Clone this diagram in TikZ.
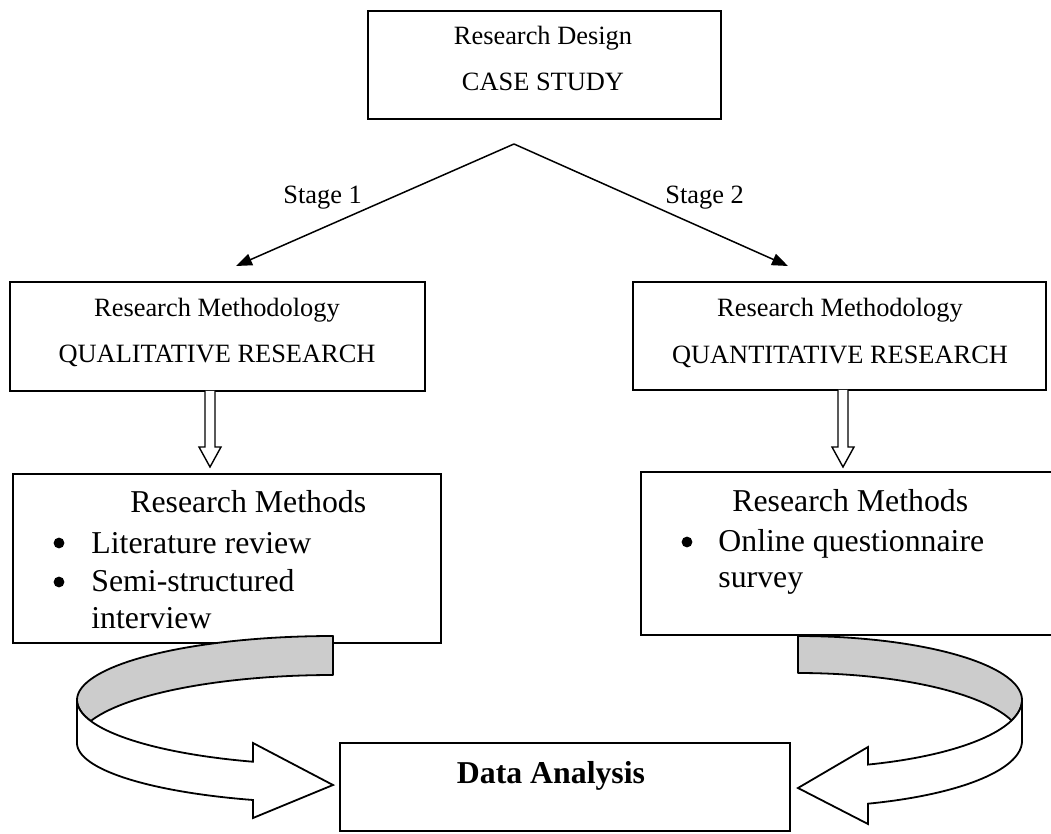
\documentclass[tikz,border=0pt]{standalone}
\usepackage{fontspec}
\setmainfont{Liberation Serif}
\usetikzlibrary{arrows.meta}
\begin{document}
\begin{tikzpicture}[x=0.5pt,y=-0.5pt,
  box/.style={draw, line width=0.9pt, inner sep=0pt},
  topbox/.style={draw, line width=1.2pt, inner sep=0pt},
  txs/.style={font=\fontsize{13.2pt}{15pt}\selectfont, inner sep=0pt},
  txl/.style={font=\fontsize{15.9pt}{19pt}\selectfont, inner sep=0pt},
  txb/.style={font=\fontsize{15.9pt}{19pt}\selectfont\bfseries, inner sep=0pt},
  dot/.style={circle, fill=black, inner sep=0pt, minimum size=5.4pt},
  conn/.style={line width=0.75pt, -{Triangle[length=8pt,width=6pt]}},
  hollow/.style={draw, fill=white, line width=0.7pt, line join=miter},
  ribbonback/.style={draw, fill=black!20, line width=0.9pt, line join=round},
  ribbonfront/.style={draw, fill=white, line width=0.9pt, line join=miter}
]
\useasboundingbox (0,0) rectangle (1051,834);

% boxes
\node[topbox, minimum width=176.5pt, minimum height=54pt] (top) at (544.5,65) {};
\node[box, minimum width=207.5pt, minimum height=54.5pt] (qual) at (217.5,336.5) {};
\node[box, minimum width=206.5pt, minimum height=54pt] (quant) at (839.5,336) {};
\node[box, minimum width=214pt, minimum height=84.5pt] (meth1) at (227,558.5) {};
\node[box, minimum width=214.5pt, minimum height=81.5pt] (meth2) at (855.5,553.5) {};
\node[box, minimum width=225pt, minimum height=44pt] (data) at (565,787) {};

% texts
\node[txs, anchor=base] (t1) at (543,45) {Research Design};
\node[txs, anchor=base] (t2) at (543,91) {CASE STUDY};
\node[txs, anchor=base] (q1) at (217,317) {Research Methodology};
\node[txs, anchor=base] (q2) at (217,363) {QUALITATIVE RESEARCH};
\node[txs, anchor=base] (n1) at (840,317) {Research Methodology};
\node[txs, anchor=base] (n2) at (840,364) {QUANTITATIVE RESEARCH};

\node[txl, anchor=base west] (m1h) at (130,513) {Research Methods};
\node[dot] (b11) at (59,543) {};
\node[txl, anchor=base west] (m1a) at (91,553) {Literature review};
\node[dot] (b12) at (59,582) {};
\node[txl, anchor=base west] (m1b) at (91,591) {Semi-structured};
\node[txl, anchor=base west] (m1c) at (91,628) {interview};

\node[txl, anchor=base west] (m2h) at (732,512) {Research Methods};
\node[dot] (b21) at (687,542) {};
\node[txl, anchor=base west] (m2a) at (718,552) {Online questionnaire};
\node[txl, anchor=base west] (m2b) at (718,588) {survey};

\node[txb, anchor=base] (dt) at (551,783) {Data Analysis};

% stage connectors
\coordinate (apex) at (514,144);
\coordinate (tipL) at (236,266);
\coordinate (tipR) at (788,266);
\draw[conn] (apex) -- (tipL);
\draw[conn] (apex) -- (tipR);
\node[txs, anchor=base west] (s1) at (283,204) {Stage 1};
\node[txs, anchor=base west] (s2) at (665,204) {Stage 2};

% hollow down arrows
\path[hollow] (205,391) -- (205,447) -- (199,447) -- (210,467) -- (221,447) -- (215,447) -- (215,391);
\path[hollow] (838,390) -- (838,447) -- (832,447) -- (843,467) -- (854,447) -- (848,447) -- (848,390);

% left ribbon arrow (back)
\path[ribbonback] (333,636)
  -- plot[domain=270:180, samples=40] ({333+256*cos(\x)},{700+64*sin(\x)})
  -- plot[domain=180:161.1, samples=10] ({333+256*cos(\x)},{700+65*sin(\x)})
  -- plot[domain=198.9:270, samples=40] ({333+256*cos(\x)},{743+68*sin(\x)})
  -- cycle;
% left ribbon arrow (front)
\path[ribbonfront] (77,700)
  -- plot[domain=180:108.2, samples=40] ({333+256*cos(\x)},{700+65*sin(\x)})
  -- (253,743) -- (333,785) -- (253,818)
  -- plot[domain=108.2:180, samples=40] ({333+256*cos(\x)},{743+60*sin(\x)})
  -- cycle;

% right ribbon arrow (back)
\path[ribbonback] (798,636)
  -- plot[domain=270:360, samples=40] ({798+224*cos(\x)},{700+64*sin(\x)})
  -- plot[domain=0:17.5, samples=10] ({798+224*cos(\x)},{700+68*sin(\x)})
  -- plot[domain=342.5:270, samples=40] ({798+224*cos(\x)},{741+68*sin(\x)})
  -- cycle;
% right ribbon arrow (front)
\path[ribbonfront] (1022,700)
  -- plot[domain=0:71.8, samples=40] ({798+224*cos(\x)},{700+68*sin(\x)})
  -- (868,747) -- (798,788) -- (868,824)
  -- plot[domain=71.8:0, samples=40] ({798+224*cos(\x)},{741+66*sin(\x)})
  -- cycle;
\end{tikzpicture}
\end{document}
